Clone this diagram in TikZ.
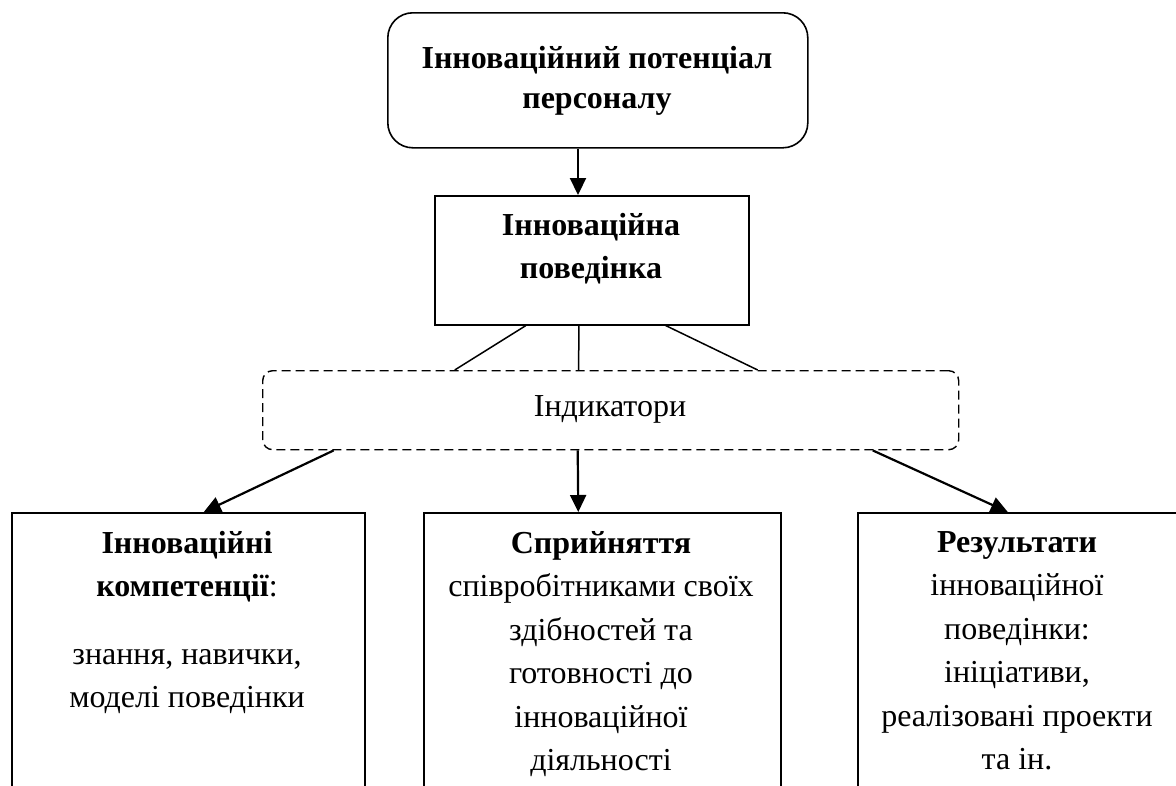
\documentclass[tikz,border=0pt]{standalone}
\usepackage{fontspec}
\setmainfont{Liberation Serif}
\usetikzlibrary{arrows.meta}
\begin{document}
\begin{tikzpicture}[x=1pt,y=-1pt,
  box/.style={draw, line width=1.6pt, rectangle, inner sep=0pt},
  rbox/.style={box, rounded corners=25pt},
  dbox/.style={draw, line width=1.4pt, rounded corners=10pt, dash pattern=on 9pt off 5pt, inner sep=0pt},
  txt/.style={align=center, inner sep=0pt, font=\fontsize{32}{43.5}\selectfont},
  arr/.style={line width=2.2pt, -{Triangle[length=17pt,width=16pt]}},
  thin/.style={line width=1.5pt}]
\useasboundingbox (0,0) rectangle (1176,785);
\clip (0,0) rectangle (1176,785);
\fill[white] (0,0) rectangle (1176,785);

% top rounded box
\node[rbox, anchor=north west, minimum width=420, minimum height=135] (top) at (387,12) {};
\node[txt, anchor=north, font=\fontsize{32}{40}\selectfont] (topt) at (597,46) {\textbf{Інноваційний потенціал}\\\textbf{персоналу}};

% second box
\node[box, anchor=north west, minimum width=314, minimum height=129] (b2) at (434,195) {};
\node[txt, anchor=north, font=\fontsize{32}{43}\selectfont] (b2t) at (591,213) {\textbf{Інноваційна}\\\textbf{поведінка}};

% dashed indicator box
\node[dbox, anchor=north west, minimum width=696, minimum height=79] (ind) at (262,370) {};
\node[txt, anchor=center] (indt) at (610,409) {Індикатори};

% bottom boxes
\node[box, anchor=north west, minimum width=353, minimum height=300] (c1) at (11,512) {};
\node[box, anchor=north west, minimum width=357, minimum height=300] (c2) at (423,512) {};
\node[box, anchor=north west, minimum width=321, minimum height=300] (c3) at (857,512) {};

\node[txt, anchor=north] (c1t) at (187,531) {\textbf{Інноваційні}\\\textbf{компетенції}:\\[24pt]знання, навички,\\моделі поведінки};
\node[txt, anchor=north] (c2t) at (601,531) {\textbf{Сприйняття}\\співробітниками своїх\\здібностей та\\готовності до\\інноваційної\\діяльності};
\node[txt, anchor=north] (c3t) at (1017,531) {\textbf{Результати}\\інноваційної\\поведінки:\\ініціативи,\\реалізовані проекти\\та ін.};

% connectors
\coordinate (ax) at (578,0);
\draw[arr] (top.south -| ax) -- (b2.north -| ax);

\draw[thin] ([xshift=-66pt]b2.south) -- ([xshift=-156pt]ind.north);
\draw[thin] ([xshift=-13pt]b2.south) -- ([xshift=-32pt]ind.north);
\draw[thin] ([xshift=74pt]b2.south) -- ([xshift=147pt]ind.north);

\draw[arr] ([xshift=-277pt]ind.south) -- ([xshift=15.5pt]c1.north);
\draw[arr] ([xshift=-33pt]ind.south) -- ([xshift=-24pt]c2.north);
\draw[arr] ([xshift=262pt]ind.south) -- ([xshift=-10.5pt]c3.north);
\end{tikzpicture}
\end{document}
